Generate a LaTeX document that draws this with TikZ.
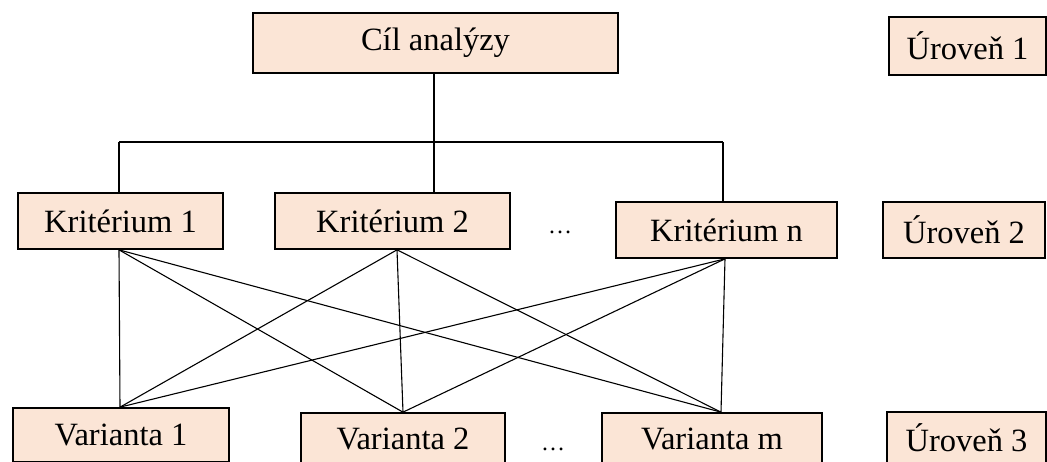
\documentclass[tikz,border=0pt]{standalone}
\usepackage{fontspec}
\setmainfont{Liberation Serif}
\definecolor{peach}{HTML}{FBE5D6}
\begin{document}
\begin{tikzpicture}[x=1pt,y=-1pt,
  box/.style={draw=black,line width=1.7pt,fill=peach,inner sep=0pt,
    font=\fontsize{32.5}{34}\selectfont,anchor=center},
  conn/.style={line width=1.1pt,black},
  dotsnode/.style={font=\fontsize{24}{26}\selectfont,inner sep=0pt}]
\useasboundingbox (0,0) rectangle (1047,461);
\node[box,minimum width=365pt,minimum height=60pt] (cil) at (435.5,43) {Cíl analýzy};
\node[box,minimum width=157pt,minimum height=58pt] (u1) at (967.5,46) {Úroveň 1};
\node[box,minimum width=205pt,minimum height=56pt] (k1) at (120.5,221) {Kritérium 1};
\node[box,minimum width=235pt,minimum height=56pt] (k2) at (392.5,221) {Kritérium 2};
\node[box,minimum width=221pt,minimum height=56pt] (kn) at (726.5,230) {Kritérium n};
\node[box,minimum width=162pt,minimum height=56pt] (u2) at (964,230) {Úroveň 2};
\node[box,minimum width=216pt,minimum height=54pt] (v1) at (121,435) {Varianta 1};
\node[box,minimum width=204pt,minimum height=52pt] (v2) at (403,439) {Varianta 2};
\node[box,minimum width=220pt,minimum height=52pt] (vm) at (712,439) {Varianta m};
\node[box,minimum width=159pt,minimum height=52pt] (u3) at (966.5,438) {Úroveň 3};
\node[dotsnode] (d1) at (560,232) {…};
\node[dotsnode] (d2) at (553,449) {…};
% bus
\coordinate (b1) at (119,142);
\coordinate (b2) at (434,142);
\coordinate (bn) at (723,142);
\draw[conn] (b1) -- (bn);
\draw[conn] (cil.south -| b2) -- (b2);
\draw[conn] (b1) -- (b1 |- k1.north);
\draw[conn] (b2) -- (b2 |- k2.north);
\draw[conn] (bn) -- (bn |- kn.north);
% lower anchors
\coordinate (k1b) at ([xshift=-1.5pt]k1.south);
\coordinate (k2b) at ([xshift=4.5pt]k2.south);
\coordinate (knb) at ([xshift=-1.5pt]kn.south);
\coordinate (v1t) at ([xshift=-1pt]v1.north);
\coordinate (v2t) at (v2.north);
\coordinate (vmt) at ([xshift=9pt]vm.north);
\foreach \k in {k1b,k2b,knb}{
  \foreach \v in {v1t,v2t,vmt}{
    \draw[conn] (\k) -- (\v);
  }
}
\end{tikzpicture}
\end{document}
